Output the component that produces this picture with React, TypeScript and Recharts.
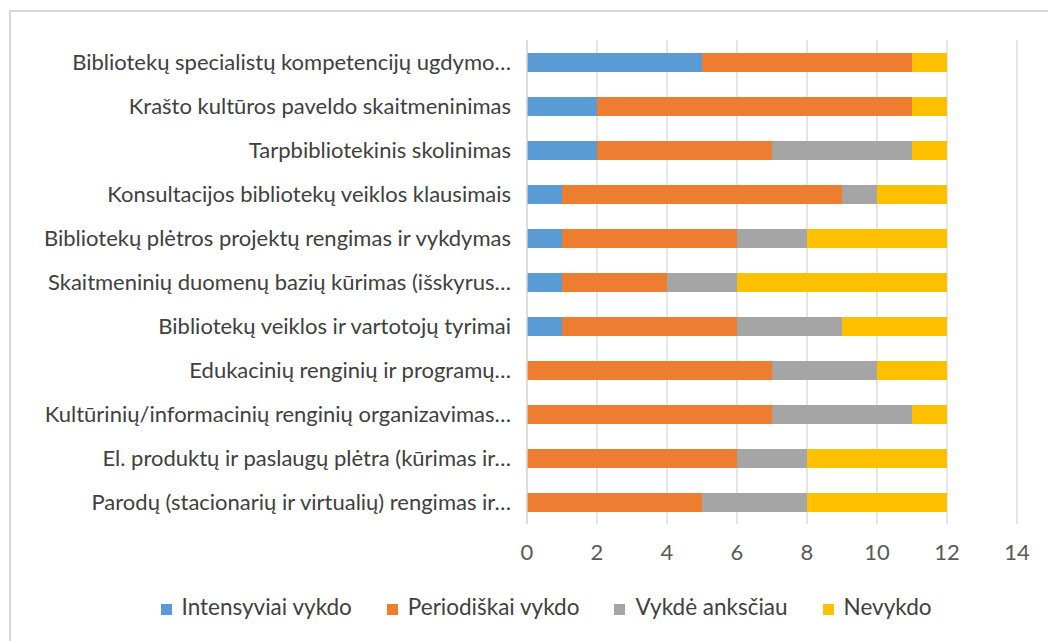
import { BarChart, Bar, XAxis, YAxis, CartesianGrid, Legend } from 'recharts'

// kategorijos (iš viršaus į apačią)
const categories = [
    'Bibliotekų specialistų kompetencijų ugdymo…',
    'Krašto kultūros paveldo skaitmeninimas',
    'Tarpbibliotekinis skolinimas',
    'Konsultacijos bibliotekų veiklos klausimais',
    'Bibliotekų plėtros projektų rengimas ir vykdymas',
    'Skaitmeninių duomenų bazių kūrimas (išskyrus…',
    'Bibliotekų veiklos ir vartotojų tyrimai',
    'Edukacinių renginių ir programų…',
    'Kultūrinių/informacinių renginių organizavimas…',
    'El. produktų ir paslaugų plėtra (kūrimas ir…',
    'Parodų (stacionarių ir virtualių) rengimas ir…',
]

const intensyviai = [5, 2, 2, 1, 1, 1, 1, 0, 0, 0, 0]
const periodiskai = [6, 9, 5, 8, 5, 3, 5, 7, 7, 6, 5]
const anksciau = [0, 0, 4, 1, 2, 2, 3, 3, 4, 2, 3]
const nevykdo = [1, 1, 1, 2, 4, 6, 3, 2, 1, 4, 4]

const xTicks = [0, 2, 4, 6, 8, 10, 12, 14]

const series = [
    { key: 'intensyviai', name: 'Intensyviai vykdo', color: '#5B9BD5' },
    { key: 'periodiskai', name: 'Periodiškai vykdo', color: '#ED7D31' },
    { key: 'anksciau', name: 'Vykdė anksčiau', color: '#A5A5A5' },
    { key: 'nevykdo', name: 'Nevykdo', color: '#FFC000' },
]

const data = categories.map((name, i) => ({
    name,
    intensyviai: intensyviai[i],
    periodiskai: periodiskai[i],
    anksciau: anksciau[i],
    nevykdo: nevykdo[i],
}))

const FONT = 'Lato, "Open Sans", sans-serif'

const CategoryTick = (props: any) => {
    const { x, y, payload } = props
    return (
        <text
            x={x - 8}
            y={y}
            dy={8}
            textAnchor="end"
            fill="#404040"
            fontSize={22}
            fontFamily={FONT}
        >
            {payload.value}
        </text>
    )
}

export default function App() {
    return (
        <div
            style={{
                position: 'fixed',
                left: 0,
                top: 0,
                width: 1048,
                height: 641,
                overflow: 'hidden',
                background: '#fff',
            }}
        >
            <div
                style={{
                    position: 'absolute',
                    left: 9,
                    top: 10,
                    width: 1060,
                    height: 660,
                    border: '2px solid #d9d9d9',
                }}
            />
            <div style={{ position: 'absolute', left: 0, top: 0 }}>
                <BarChart
                    width={1048}
                    height={641}
                    data={data}
                    layout="vertical"
                    barSize={19}
                    margin={{ top: 40, right: 31, left: 0, bottom: 21 }}
                >
                    <CartesianGrid horizontal={false} stroke="#d9d9d9" strokeWidth={1.3} />
                    <XAxis
                        type="number"
                        domain={[0, 14]}
                        ticks={xTicks}
                        axisLine={false}
                        tickLine={false}
                        tickMargin={14}
                        height={69}
                        tick={{ fill: '#595959', fontSize: 22, fontFamily: FONT }}
                    />
                    <YAxis
                        type="category"
                        dataKey="name"
                        width={527}
                        axisLine={{ stroke: '#d9d9d9', strokeWidth: 1.3 }}
                        tickLine={false}
                        interval={0}
                        tick={<CategoryTick />}
                    />
                    {series.map((s) => (
                        <Bar
                            key={s.key}
                            dataKey={s.key}
                            name={s.name}
                            stackId="a"
                            fill={s.color}
                            isAnimationActive={false}
                        />
                    ))}
                    <Legend
                        verticalAlign="bottom"
                        align="center"
                        iconType="square"
                        iconSize={11}
                        itemSorter={null as any}
                        wrapperStyle={{
                            fontFamily: FONT,
                            fontSize: 22.5,
                            paddingLeft: 0,
                            left: 55,
                        }}
                        formatter={(value: any) => (
                            <span style={{ color: '#404040', marginLeft: 6, marginRight: 25 }}>{value}</span>
                        )}
                    />
                </BarChart>
            </div>
        </div>
    )
}
